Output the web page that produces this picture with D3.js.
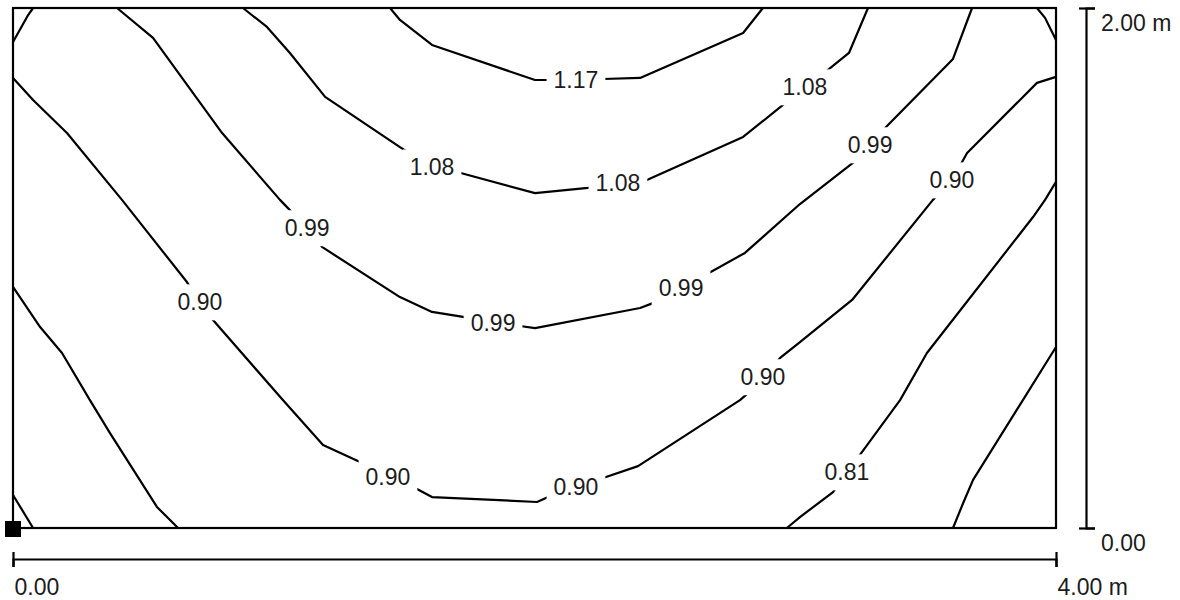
<!DOCTYPE html>
<html lang="en">

<head>
    <meta charset="UTF-8">
    <title>Isolines</title>
    <style>
        body {
            margin: 0;
            padding: 0;
            overflow: hidden;
            background: #fff;
        }

        svg {
            display: block;
        }

        text {
            font-family: "Liberation Sans", Arial, sans-serif;
            font-size: 23px;
            fill: #1c1c1c;
        }
    </style>
</head>

<body>
    <script src="https://d3js.org/d3.v7.min.js"></script>
    <script>
        // Room size in metres
        const roomX = [0, 4];
        const roomY = [0, 2];

        // Isoline levels and the lines read from the plan, [x m, y m]
        const levels = [0.72, 0.81, 0.90, 0.99, 1.08, 1.17];

        const line072a = [[0, 0.127], [0.077, 0]];
        const line072b = [[4, 0.696], [3.873, 0.492], [3.682, 0.185], [3.644, 0.096], [3.605, 0]];

        const line081a = [[0.077, 2], [0.058, 1.973], [0, 1.869]];
        const line081b = [[0, 0.927], [0.104, 0.773], [0.188, 0.673], [0.295, 0.492], [0.372, 0.365], [0.552, 0.081], [0.633, 0]];
        const line081c = [[2.968, 0], [3.018, 0.042], [3.145, 0.138], [3.198, 0.215], [3.248, 0.281], [3.402, 0.492],
            [3.505, 0.673], [3.912, 1.196], [3.958, 1.262], [4, 1.331]];
        const line081d = [[3.927, 2], [3.958, 1.962], [4, 1.877]];

        const line090 = [[0, 1.731], [0.077, 1.646], [0.207, 1.519], [0.418, 1.262], [0.667, 0.946], [0.717, 0.869],
            [0.767, 0.8], [1.035, 0.492], [1.189, 0.319], [1.331, 0.254], [1.438, 0.196], [1.542, 0.154],
            [1.607, 0.119], [2.010, 0.1], [2.052, 0.119], [2.159, 0.162], [2.263, 0.192], [2.397, 0.238],
            [2.788, 0.492], [2.819, 0.519], [2.876, 0.581], [2.942, 0.654], [3.018, 0.715], [3.218, 0.877],
            [3.528, 1.262], [3.601, 1.338], [3.659, 1.442], [3.927, 1.712], [4, 1.735]];

        const line099 = [[0.399, 2], [0.537, 1.885], [0.802, 1.519], [1.024, 1.262], [1.128, 1.154], [1.185, 1.081],
            [1.484, 0.888], [1.607, 0.831], [1.726, 0.812], [1.841, 0.788], [1.944, 0.777], [2.002, 0.769],
            [2.405, 0.846], [2.454, 0.865], [2.562, 0.923], [2.662, 0.977], [2.807, 1.058], [3.018, 1.246],
            [3.221, 1.404], [3.287, 1.473], [3.352, 1.546], [3.605, 1.804], [3.678, 2]];

        const line108 = [[0.882, 2], [0.974, 1.927], [1.062, 1.827], [1.197, 1.658], [1.484, 1.465], [1.607, 1.388],
            [1.703, 1.369], [2.002, 1.288], [2.205, 1.308], [2.320, 1.327], [2.431, 1.338], [2.800, 1.504],
            [2.953, 1.627], [3.037, 1.696], [3.129, 1.765], [3.206, 1.827], [3.279, 2]];

        const line117 = [[1.446, 2], [1.484, 1.954], [1.607, 1.858], [2.002, 1.723], [2.048, 1.723], [2.159, 1.723],
            [2.263, 1.727], [2.405, 1.731], [2.800, 1.904], [2.876, 2]];

        const isolines = [
            [0.72, line072a], [0.72, line072b],
            [0.81, line081a], [0.81, line081b], [0.81, line081c], [0.81, line081d],
            [0.90, line090], [0.99, line099], [1.08, line108], [1.17, line117]
        ];

        // Label centres on the lines, [x m, y m, level]
        const lineLabels = [
            [0.717, 0.869, 0.90], [1.438, 0.196, 0.90], [2.159, 0.158, 0.90], [2.876, 0.581, 0.90], [3.601, 1.338, 0.90],
            [1.128, 1.154, 0.99], [1.841, 0.788, 0.99], [2.562, 0.923, 0.99], [3.287, 1.473, 0.99],
            [1.607, 1.388, 1.08], [2.320, 1.327, 1.08], [3.037, 1.696, 1.08],
            [2.159, 1.723, 1.17],
            [3.198, 0.215, 0.81]
        ];

        const axisTicksX = [0, 4];
        const axisTicksY = [0, 2];
        const tickText = d => d3.format(".2f")(d);

        const width = 1180;
        const height = 600;

        const svg = d3.select("body").append("svg")
            .attr("width", width)
            .attr("height", height);

        const x = d3.scaleLinear().domain(roomX).range([13, 1056]);
        const y = d3.scaleLinear().domain(roomY).range([528, 8]);

        const fmt = d3.format(".2f");

        // Labels first so their boxes can cut the lines
        const labelG = svg.append("g");
        const labels = labelG.selectAll("text")
            .data(lineLabels)
            .enter().append("text")
            .attr("x", d => x(d[0]))
            .attr("y", d => y(d[1]))
            .attr("dy", "0.36em")
            .attr("text-anchor", "middle")
            .text(d => fmt(d[2]));

        const mask = svg.append("defs").append("mask")
            .attr("id", "gaps")
            .attr("maskUnits", "userSpaceOnUse");
        mask.append("rect")
            .attr("width", width)
            .attr("height", height)
            .attr("fill", "#fff");
        labels.each(function () {
            const b = this.getBBox();
            mask.append("rect")
                .attr("x", b.x - 7)
                .attr("y", b.y - 5)
                .attr("width", b.width + 14)
                .attr("height", b.height + 10)
                .attr("fill", "#000");
        });

        // Isolines
        const line = d3.line()
            .x(d => x(d[0]))
            .y(d => y(d[1]));

        svg.append("g")
            .attr("mask", "url(#gaps)")
            .selectAll("path")
            .data(isolines)
            .enter().append("path")
            .attr("d", d => line(d[1]))
            .attr("fill", "none")
            .attr("stroke", "#000")
            .attr("stroke-width", 2.2)
            .attr("stroke-linejoin", "round");

        // Room outline
        svg.append("rect")
            .attr("x", x(0))
            .attr("y", y(2))
            .attr("width", x(4) - x(0))
            .attr("height", y(0) - y(2))
            .attr("fill", "none")
            .attr("stroke", "#000")
            .attr("stroke-width", 2.2);

        // Luminaire reference marker at the origin
        svg.append("rect")
            .attr("x", x(0) - 8)
            .attr("y", y(0) - 7)
            .attr("width", 16)
            .attr("height", 16)
            .attr("fill", "#000");

        // Bottom scale
        const xAxis = svg.append("g")
            .attr("transform", `translate(0,559)`)
            .call(d3.axisBottom(x).tickValues(axisTicksX).tickSizeOuter(0).tickSize(8)
                .tickFormat((d, i) => i === axisTicksX.length - 1 ? tickText(d) + " m" : tickText(d)));
        xAxis.select(".domain").attr("stroke", "#000").attr("stroke-width", 2.2);
        xAxis.selectAll(".tick line").attr("y1", -7).attr("y2", 8)
            .attr("stroke", "#000").attr("stroke-width", 2.2);
        xAxis.selectAll(".tick text")
            .attr("y", 36).attr("dy", null).attr("x", 1)
            .attr("text-anchor", "start")
            .style("font-size", "23px")
            .style("font-family", "\"Liberation Sans\", Arial, sans-serif")
            .attr("fill", "#1c1c1c");

        // Right scale
        const yAxis = svg.append("g")
            .attr("transform", `translate(1086,0)`)
            .call(d3.axisRight(y).tickValues(axisTicksY).tickSizeOuter(0).tickSize(9)
                .tickFormat((d, i) => i === axisTicksY.length - 1 ? tickText(d) + " m" : tickText(d)));
        yAxis.select(".domain").attr("stroke", "#000").attr("stroke-width", 2.2);
        yAxis.selectAll(".tick line").attr("x1", -7).attr("x2", 9)
            .attr("stroke", "#000").attr("stroke-width", 2.2);
        yAxis.selectAll(".tick text")
            .attr("x", 15).attr("y", 22).attr("dy", null)
            .attr("text-anchor", "start")
            .style("font-size", "23px")
            .style("font-family", "\"Liberation Sans\", Arial, sans-serif")
            .attr("fill", "#1c1c1c");
    </script>
</body>

</html>
